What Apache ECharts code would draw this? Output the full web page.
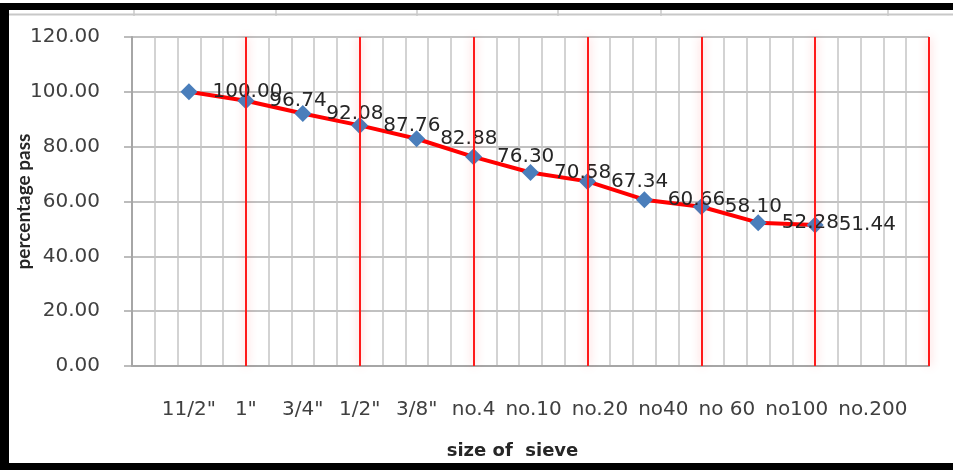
<!DOCTYPE html>
<html><head><meta charset="utf-8">
<script src="https://cdn.jsdelivr.net/npm/echarts@6/dist/echarts.min.js"></script>
<style>html,body{margin:0;padding:0;background:#fff}#c{width:953px;height:470px}</style>
</head><body><div id="c"></div>
<script>
// ---- data ----
const sieveSizes = ['11/2"', '1"', '3/4"', '1/2"', '3/8"', 'no.4', 'no.10', 'no.20', 'no40', 'no 60', 'no100', 'no.200'];
const percentPassing = [100.00, 96.74, 92.08, 87.76, 82.88, 76.30, 70.58, 67.34, 60.66, 58.10, 52.28, 51.44];
const yMin = 0, yMax = 120, yStep = 20;

// ---- layout / style constants ----
const FONT = '"DejaVu Sans", Verdana, sans-serif';
const TITLE_FONT = 'Lato, "Open Sans", sans-serif';
const STEP = 2.5, X_MAX = 35, MAJOR = 5, LABEL_GAP = 10, LABEL_SIZE = 20;

const chart = echarts.init(document.getElementById('c'), null, {renderer: 'canvas'});
const seriesData = percentPassing.map((v, i) => [STEP * (i + 1), v]);
const redLines = [];
for (let x = MAJOR; x <= X_MAX; x += MAJOR) redLines.push({xAxis: x});

let labelValues = [];
function labelFor(val) {
  let best = -1, d = Infinity;
  labelValues.forEach((v, i) => { const dd = Math.abs(v - val); if (dd < d) { d = dd; best = i; } });
  return best >= 0 ? sieveSizes[best] : '';
}

const tickColor = '#a6a6a6';
const option = {
  animation: false,
  backgroundColor: '#fff',
  grid: {left: 132, right: 24, top: 37, bottom: 104, containLabel: false, outerBoundsMode: 'none'},
  xAxis: {
    type: 'value', min: 0, max: X_MAX, interval: 1,
    axisLine: {show: true, lineStyle: {color: tickColor, width: 2}},
    axisTick: {show: false},
    splitLine: {show: true, lineStyle: {color: '#c4c4c4', width: 1.5}},
    axisLabel: {show: false, margin: 34, fontSize: LABEL_SIZE, color: '#404040', fontFamily: FONT, formatter: labelFor},
    name: 'size of  sieve', nameLocation: 'middle', nameGap: 76, nameMoveOverlap: false,
    nameTextStyle: {fontFamily: FONT, fontWeight: 'bold', fontSize: 18, color: '#262626', padding: [0, 36, 0, 0]}
  },
  yAxis: {
    type: 'value', min: yMin, max: yMax, interval: yStep,
    axisLine: {show: true, lineStyle: {color: tickColor, width: 2}},
    axisTick: {show: true, length: 8, lineStyle: {color: tickColor, width: 1.5}},
    splitLine: {show: true, lineStyle: {color: '#acacac', width: 1.5}},
    axisLabel: {margin: 32, fontSize: LABEL_SIZE, color: '#404040', fontFamily: FONT, formatter: v => v.toFixed(2)},
    name: 'percentage pass', nameLocation: 'middle', nameRotate: 90, nameGap: 99, nameMoveOverlap: false,
    nameTextStyle: {fontFamily: TITLE_FONT, fontWeight: 'bold', fontSize: 19, color: '#262626'}
  },
  series: [{
    type: 'line', data: seriesData, z: 3,
    symbol: 'diamond', symbolSize: 17,
    itemStyle: {color: '#4a7ebb'},
    lineStyle: {color: '#ff0000', width: 4},
    label: {show: true, position: 'right', distance: 15, fontSize: LABEL_SIZE, color: '#262626', fontFamily: FONT,
            formatter: p => p.value[1].toFixed(2)},
    markLine: {
      silent: true, symbol: 'none', label: {show: false}, animation: false,
      lineStyle: {color: '#ff1a1a', width: 2, type: 'solid', shadowColor: 'rgba(255,0,0,0.35)', shadowBlur: 10},
      data: redLines
    }
  }],
  graphic: [
    {type: 'rect', shape: {x: 0, y: 3, width: 953, height: 7}, style: {fill: '#000'}, z: 100},
    {type: 'rect', shape: {x: 0, y: 3, width: 9, height: 467}, style: {fill: '#000'}, z: 100},
    {type: 'rect', shape: {x: 0, y: 463, width: 953, height: 7}, style: {fill: '#000'}, z: 100},
    {type: 'line', shape: {x1: 9, y1: 14.5, x2: 953, y2: 14.5}, style: {stroke: '#c8c8c8', lineWidth: 2}, z: 100},
    ...[134, 276, 417, 558, 661, 888].map(x => ({type: 'line', shape: {x1: x, y1: 10, x2: x, y2: 16}, style: {stroke: '#c8c8c8', lineWidth: 1.5}, z: 100}))
  ]
};
chart.setOption(option);

// place category labels under their sieve positions, pushing right where they would collide
const ctx = document.createElement('canvas').getContext('2d');
ctx.font = LABEL_SIZE + 'px ' + FONT;
let prevRight = -Infinity;
labelValues = sieveSizes.map((name, i) => {
  const cx = chart.convertToPixel({xAxisIndex: 0}, STEP * (i + 1));
  const w = ctx.measureText(name).width;
  let left = cx - w / 2;
  if (left < prevRight + LABEL_GAP) left = prevRight + LABEL_GAP;
  prevRight = left + w;
  return chart.convertFromPixel({xAxisIndex: 0}, left + w / 2);
});
chart.setOption({xAxis: {axisLabel: {show: true, customValues: labelValues, formatter: labelFor}}});
</script>
</body></html>
